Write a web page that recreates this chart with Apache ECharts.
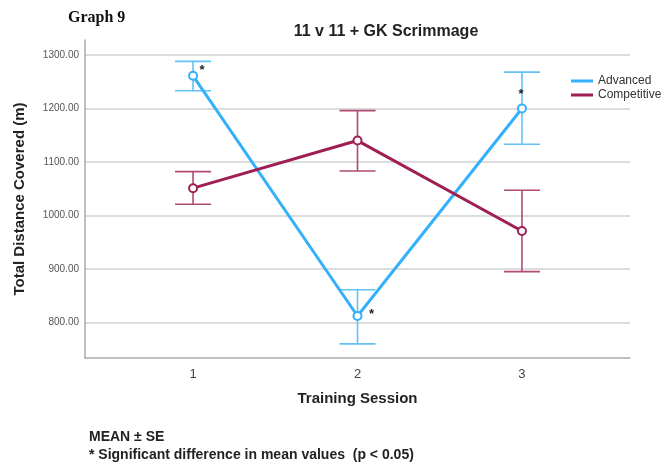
<!DOCTYPE html>
<html>
<head>
<meta charset="utf-8">
<script src="https://cdn.jsdelivr.net/npm/echarts@6/dist/echarts.min.js"></script>
<style>
  html, body { margin: 0; padding: 0; background: #fff; }
  #chart { width: 664px; height: 464px; }
</style>
</head>
<body>
<div id="chart"></div>
<script>
// Training sessions on the x axis
const sessions = [1, 2, 3];

// Advanced group: mean and ±SE bounds (m)
const advancedMean = [1261, 812, 1200];
const advancedLow = [1233, 760, 1133];
const advancedHigh = [1288, 861, 1268];
const advancedSig = ['*', '*', '*'];

// Competitive group: mean and ±SE bounds (m)
const competitiveMean = [1051, 1140, 971];
const competitiveLow = [1021, 1083, 895];
const competitiveHigh = [1082, 1196, 1047];

// Y axis tick labels
const yTicks = [800, 900, 1000, 1100, 1200, 1300];

const BLUE = '#35b0fb';
const BLUE_ERR = '#62c2f5';
const RED = '#9f1f55';
const RED_ERR = '#b04a74';

function errorBars(low, high) {
  return sessions.map((s, i) => [s, low[i], high[i]]);
}

function renderErrorBar(color) {
  return function (params, api) {
    const x = api.value(0);
    const lo = api.coord([x, api.value(1)]);
    const hi = api.coord([x, api.value(2)]);
    const half = 18;
    const style = { stroke: color, lineWidth: 1.6, fill: null };
    return {
      type: 'group',
      children: [
        { type: 'line', shape: { x1: hi[0], y1: hi[1], x2: lo[0], y2: lo[1] }, style },
        { type: 'line', shape: { x1: hi[0] - half, y1: hi[1], x2: hi[0] + half, y2: hi[1] }, style },
        { type: 'line', shape: { x1: lo[0] - half, y1: lo[1], x2: lo[0] + half, y2: lo[1] }, style }
      ]
    };
  };
}

// Asterisk label offsets per session
const sigOffsets = [[9, -5], [14, -2], [-1, -14]];

const chart = echarts.init(document.getElementById('chart'), null, { renderer: 'canvas' });

chart.setOption({
  animation: false,
  backgroundColor: '#fff',
  textStyle: { fontFamily: 'Liberation Sans, Arial, sans-serif' },
  title: {
    text: '11 v 11 + GK Scrimmage',
    left: 381,
    top: 19,
    textAlign: 'center',
    textStyle: { fontSize: 16, fontWeight: 'bold', color: '#222', fontFamily: 'Liberation Sans, Arial, sans-serif' }
  },
  graphic: [
    { type: 'text', left: 68, top: 10, style: { text: 'Graph 9', font: 'bold 16px "Liberation Serif", "Times New Roman", serif', fill: '#111' } },
    { type: 'text', left: 89, top: 430, style: { text: 'MEAN ± SE', font: 'bold 14px "Liberation Sans", Arial, sans-serif', fill: '#222' } },
    { type: 'text', left: 89, top: 448, style: { text: '* Significant difference in mean values  (p < 0.05)', font: 'bold 14px "Liberation Sans", Arial, sans-serif', fill: '#222' } }
  ],
  legend: {
    orient: 'vertical',
    left: 571,
    top: 75,
    padding: 0,
    itemWidth: 22,
    itemHeight: 3,
    itemGap: 2,
    icon: 'rect',
    textStyle: { fontSize: 12, color: '#333', lineHeight: 12 },
    data: [
      { name: 'Advanced', itemStyle: { color: BLUE } },
      { name: 'Competitive', itemStyle: { color: RED } }
    ]
  },
  grid: { left: 85, right: 34, top: 40, bottom: 106 },
  xAxis: {
    type: 'value',
    min: 0.343,
    max: 3.657,
    name: 'Training Session',
    nameLocation: 'middle',
    nameGap: 33,
    nameTextStyle: { fontSize: 15, fontWeight: 'bold', color: '#222' },
    axisLine: { show: true, lineStyle: { color: '#aaa', width: 1.5 } },
    axisTick: { show: false, customValues: sessions },
    axisLabel: { customValues: sessions, fontSize: 13, color: '#444', margin: 10 },
    splitLine: { show: false }
  },
  yAxis: {
    type: 'value',
    min: 733.5,
    max: 1328,
    name: 'Total Distance Covered (m)',
    nameLocation: 'middle',
    nameGap: 58,
    nameTextStyle: { fontSize: 15, fontWeight: 'bold', color: '#222' },
    axisLine: { show: true, lineStyle: { color: '#aaa', width: 1.5 } },
    axisTick: { show: false, customValues: yTicks },
    axisLabel: { customValues: yTicks, fontSize: 10, color: '#555', margin: 6, formatter: v => v.toFixed(2) },
    splitLine: { show: true, lineStyle: { color: '#dcdcdc', width: 2 } }
  },
  series: [
    {
      name: 'Advanced',
      type: 'line',
      data: sessions.map((s, i) => ({
        value: [s, advancedMean[i]],
        label: { show: true, formatter: advancedSig[i], offset: sigOffsets[i] }
      })),
      symbol: 'emptyCircle',
      symbolSize: 8,
      lineStyle: { color: BLUE, width: 3 },
      itemStyle: { color: BLUE, borderWidth: 1 },
      label: { position: 'inside', fontSize: 13, fontWeight: 'bold', color: '#222' },
      z: 3
    },
    {
      name: 'Competitive',
      type: 'line',
      data: sessions.map((s, i) => [s, competitiveMean[i]]),
      symbol: 'emptyCircle',
      symbolSize: 8,
      lineStyle: { color: RED, width: 3 },
      itemStyle: { color: RED, borderWidth: 1 },
      z: 3
    },
    {
      name: 'Advanced',
      type: 'custom',
      renderItem: renderErrorBar(BLUE_ERR),
      data: errorBars(advancedLow, advancedHigh),
      encode: { x: 0, y: [1, 2] },
      z: 2,
      silent: true
    },
    {
      name: 'Competitive',
      type: 'custom',
      renderItem: renderErrorBar(RED_ERR),
      data: errorBars(competitiveLow, competitiveHigh),
      encode: { x: 0, y: [1, 2] },
      z: 2,
      silent: true
    }
  ]
});
</script>
</body>
</html>
